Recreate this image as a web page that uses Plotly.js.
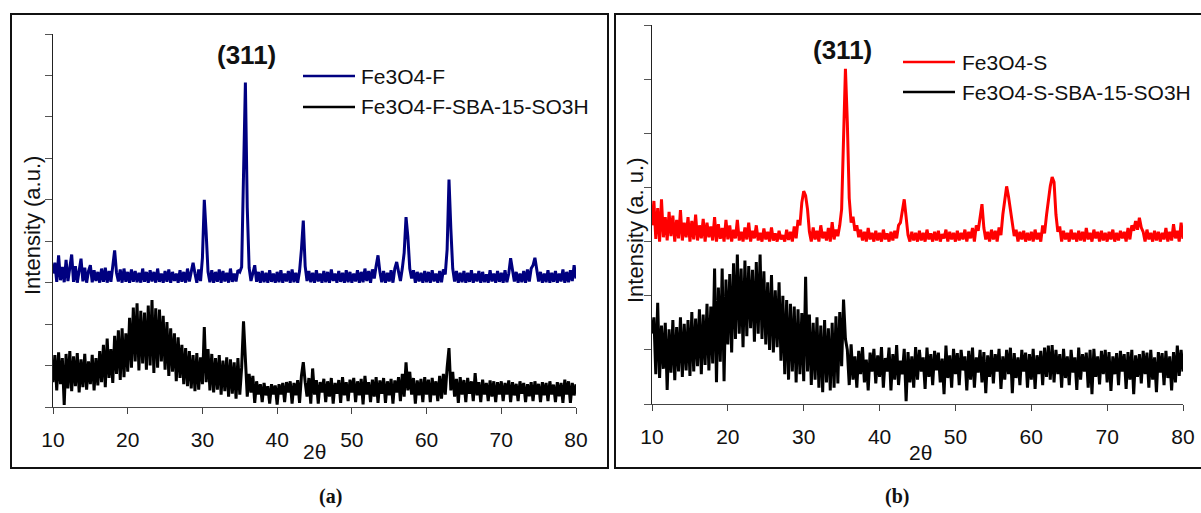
<!DOCTYPE html>
<html>
<head>
<meta charset="utf-8">
<script src="https://cdn.plot.ly/plotly-3.0.1.min.js"></script>
<style>html,body{margin:0;padding:0;background:#fff;}#chart{width:1201px;height:513px;}</style>
</head>
<body>
<div id="chart"></div>
<script>
// 2θ sampling: start and step (degrees)
const twoThetaStart = 10;
const twoThetaStep = 0.25;
const xTicks = [10, 20, 30, 40, 50, 60, 70, 80];

// Panel (a): Fe3O4-F (offset) and Fe3O4-F-SBA-15-SO3H, arbitrary units
const fe3o4F = [
322,348,302,366,306,338,301,355,304,332,368,302,340,300,330,358,303,336,300,328,
342,301,330,304,326,300,334,302,336,300,328,302,340,378,324,303,332,300,334,302,
326,300,332,302,328,301,324,300,334,302,326,300,330,303,326,300,334,302,322,300,
328,302,332,300,326,304,322,300,330,302,326,300,334,303,326,348,322,300,332,304,
360,500,420,326,301,330,300,326,302,332,300,328,303,324,300,334,302,322,303,330,
326,338,560,783,480,336,304,326,342,302,326,300,328,301,324,300,330,302,322,300,
326,301,330,300,322,303,328,300,332,301,324,300,328,380,450,340,304,328,301,324,
300,330,303,322,300,328,301,326,300,332,304,322,300,328,302,324,300,330,301,326,
300,322,303,330,300,326,301,334,304,328,300,332,310,340,366,326,301,328,300,324,
303,330,300,334,350,326,304,334,372,458,410,334,310,330,300,326,303,324,300,328,
301,326,300,330,303,322,300,328,301,332,320,380,549,430,334,303,328,300,324,301,
328,300,324,302,330,300,322,303,328,300,326,301,320,300,330,303,322,300,328,302,
324,300,330,301,322,359,334,303,326,300,322,301,328,300,332,303,334,342,360,326,
303,326,300,322,301,330,300,324,302,328,300,322,303,332,300,326,301,330,304,342,
310];
const fe3o4FSBA = [
60,125,40,132,55,118,5,128,45,135,38,122,50,130,35,115,48,128,42,110,
55,126,40,118,52,135,60,150,48,165,70,140,58,172,80,185,65,190,72,178,
85,215,95,240,110,250,88,232,105,228,90,245,100,258,82,238,95,235,110,220,
90,205,75,190,85,178,62,168,70,150,55,142,50,135,45,125,38,130,42,120,
55,193,60,140,40,128,35,118,42,125,30,112,38,120,25,115,32,108,20,118,
30,95,207,120,25,80,35,75,10,62,30,55,12,58,28,50,8,55,30,52,
6,55,30,58,12,60,35,62,8,58,28,65,10,75,108,60,25,70,8,93,
30,65,8,60,35,68,12,62,25,70,8,58,32,65,10,72,28,60,14,66,
35,70,12,62,28,68,6,75,30,60,12,66,25,72,10,64,32,70,10,62,
28,68,8,64,35,72,14,80,25,108,40,85,30,70,8,64,28,68,12,72,
30,66,12,70,28,62,14,75,20,80,30,95,142,40,85,25,68,10,72,30,
65,12,70,32,62,14,82,28,60,12,66,30,58,14,64,25,62,12,60,30,
62,14,58,30,64,12,60,28,56,14,62,32,58,12,55,26,60,14,62,30,
56,12,60,28,58,14,62,30,54,12,60,26,58,10,66,30,62,10,58,28,
55];

// Panel (b): Fe3O4-S (offset) and Fe3O4-S-SBA-15-SO3H, arbitrary units
const fe3o4S = [
330,375,305,362,300,378,308,345,302,355,310,348,300,340,306,358,302,335,308,345,
300,338,304,350,302,330,306,342,300,335,308,328,302,345,300,332,305,325,300,340,
304,330,300,322,306,340,302,318,300,326,304,335,300,320,306,330,302,316,300,324,
304,318,300,326,302,315,300,320,304,312,300,322,303,318,300,328,306,340,330,372,
393,385,360,318,300,326,304,320,300,330,306,318,302,325,300,336,304,322,310,330,
360,483,619,520,380,335,346,320,330,308,322,302,318,300,325,304,316,300,320,302,
316,300,322,304,315,300,318,302,320,306,330,335,360,378,345,312,300,318,302,316,
300,320,302,316,300,322,304,315,300,318,302,320,300,314,306,322,300,318,304,316,
300,320,302,316,304,322,300,318,306,325,300,330,320,345,369,325,304,318,300,322,
304,320,300,326,312,350,378,402,383,360,340,310,322,300,318,304,320,300,316,302,
318,300,322,304,316,300,330,315,348,380,402,419,410,350,318,328,300,320,304,316,
300,322,304,316,300,320,302,318,300,325,304,316,300,322,306,318,300,320,302,316,
300,318,304,322,300,316,302,320,306,318,300,325,304,330,320,338,322,344,326,318,
300,322,304,316,300,320,302,318,300,316,304,325,300,318,302,332,306,320,300,335,
305];
const fe3o4SSBA = [
130,160,55,187,48,145,65,150,26,138,58,155,44,142,60,160,50,148,62,155,
52,170,60,158,70,175,55,165,72,185,62,180,75,250,40,215,78,250,42,230,
110,240,95,260,120,276,130,250,105,265,125,255,140,248,115,262,130,276,120,245,
110,225,100,238,95,210,105,225,80,200,55,192,45,185,60,180,40,175,55,168,
42,235,60,165,35,150,45,160,30,145,22,155,40,140,25,150,30,162,38,170,
70,193,120,100,35,110,45,88,30,98,55,105,40,82,25,95,60,102,38,90,
50,105,30,85,60,104,25,92,45,109,35,80,55,102,5,96,40,88,30,105,
45,100,60,86,28,104,50,92,35,98,62,95,40,84,18,108,48,90,30,102,
55,94,35,100,62,88,25,98,45,104,30,86,58,100,40,96,20,90,50,100,
38,92,60,102,28,88,45,100,55,104,20,94,48,86,35,100,60,95,30,92,
45,102,28,90,55,98,35,104,50,108,45,109,40,100,55,92,30,102,48,88,
35,100,58,86,26,104,45,92,60,95,30,100,18,102,50,88,36,98,55,100,
40,96,24,88,55,94,35,98,60,92,28,96,45,100,18,90,50,92,38,98,
55,95,30,100,45,86,22,96,58,94,35,98,48,88,25,96,40,108,52,100,
60];

const seriesNames = ['Fe3O4-F', 'Fe3O4-F-SBA-15-SO3H', 'Fe3O4-S', 'Fe3O4-S-SBA-15-SO3H'];
const seriesColors = ['#000080', '#000000', '#ff0000', '#000000'];

const W = 1201, H = 513;
const px = v => v / W;
const py = v => 1 - v / H;
const FONT = 'Liberation Sans, Arial, sans-serif';

function tr(y, name, color, xa, ya) {
  return {
    type: 'scatter', mode: 'lines', y: y, x0: twoThetaStart, dx: twoThetaStep,
    name: name, xaxis: xa, yaxis: ya, showlegend: false,
    line: {color: color, width: 3}
  };
}

const data = [
  tr(fe3o4FSBA, seriesNames[1], seriesColors[1], 'x', 'y'),
  tr(fe3o4F, seriesNames[0], seriesColors[0], 'x', 'y'),
  tr(fe3o4SSBA, seriesNames[3], seriesColors[3], 'x2', 'y2'),
  tr(fe3o4S, seriesNames[2], seriesColors[2], 'x2', 'y2')
];

const xAxisBase = {
  range: [10, 80], tickvals: xTicks, ticks: 'outside', ticklen: 6, tickcolor: '#444', tickwidth: 1,
  showline: true, linecolor: '#444', linewidth: 1.2, showgrid: false, zeroline: false,
  tickfont: {family: FONT, size: 21, color: '#111'}, ticklabelstandoff: 8, fixedrange: true
};
const yAxisBase = {
  ticks: 'outside', ticklen: 7, tickcolor: '#555', tickwidth: 1, showticklabels: false,
  showline: true, linecolor: '#222', linewidth: 1.2, showgrid: false, zeroline: false, fixedrange: true
};

const layout = {
  width: W, height: H,
  margin: {l: 0, r: 0, t: 0, b: 0},
  paper_bgcolor: '#fff', plot_bgcolor: 'rgba(0,0,0,0)',
  showlegend: false,
  xaxis: Object.assign({}, xAxisBase, {domain: [px(53), px(576)], anchor: 'y'}),
  yaxis: Object.assign({}, yAxisBase, {domain: [py(407), py(34)], range: [0, 900], tickvals: [0,100,200,300,400,500,600,700,800,900], anchor: 'x'}),
  xaxis2: Object.assign({}, xAxisBase, {domain: [px(652), px(1183)], anchor: 'y2'}),
  yaxis2: Object.assign({}, yAxisBase, {domain: [py(404), py(25)], range: [0, 700], tickvals: [0,100,200,300,400,500,600,700], anchor: 'x2'}),
  shapes: [
    {type: 'rect', xref: 'paper', yref: 'paper', x0: px(11), x1: px(608), y0: py(468), y1: py(14), line: {color: '#111', width: 2}},
    {type: 'rect', xref: 'paper', yref: 'paper', x0: px(615), x1: px(1210), y0: py(468), y1: py(14), line: {color: '#111', width: 2}},
    {type: 'line', xref: 'paper', yref: 'paper', x0: px(303), x1: px(355), y0: py(76), y1: py(76), line: {color: seriesColors[0], width: 2.6}},
    {type: 'line', xref: 'paper', yref: 'paper', x0: px(303), x1: px(355), y0: py(107), y1: py(107), line: {color: seriesColors[1], width: 2.6}},
    {type: 'line', xref: 'paper', yref: 'paper', x0: px(903), x1: px(955), y0: py(62), y1: py(62), line: {color: seriesColors[2], width: 2.6}},
    {type: 'line', xref: 'paper', yref: 'paper', x0: px(903), x1: px(955), y0: py(92), y1: py(92), line: {color: seriesColors[3], width: 2.6}}
  ],
  annotations: [
    {text: seriesNames[0], xref: 'paper', yref: 'paper', x: px(359), y: py(76), xanchor: 'left', yanchor: 'middle', showarrow: false, font: {family: FONT, size: 21, color: '#111'}},
    {text: seriesNames[1], xref: 'paper', yref: 'paper', x: px(359), y: py(107), xanchor: 'left', yanchor: 'middle', showarrow: false, font: {family: FONT, size: 21, color: '#111'}},
    {text: seriesNames[2], xref: 'paper', yref: 'paper', x: px(960), y: py(62), xanchor: 'left', yanchor: 'middle', showarrow: false, font: {family: FONT, size: 21, color: '#111'}},
    {text: seriesNames[3], xref: 'paper', yref: 'paper', x: px(960), y: py(92), xanchor: 'left', yanchor: 'middle', showarrow: false, font: {family: FONT, size: 21, color: '#111'}},
    {text: '<b>(311)</b>', xref: 'paper', yref: 'paper', x: px(246), y: py(55), xanchor: 'center', yanchor: 'middle', showarrow: false, font: {family: FONT, size: 26, color: '#111'}},
    {text: '<b>(311)</b>', xref: 'paper', yref: 'paper', x: px(842), y: py(50), xanchor: 'center', yanchor: 'middle', showarrow: false, font: {family: FONT, size: 26, color: '#111'}},
    {text: 'Intensity (a.u.)', xref: 'paper', yref: 'paper', x: px(32), y: py(226), xanchor: 'center', yanchor: 'middle', textangle: -90, showarrow: false, font: {family: FONT, size: 22, color: '#111'}},
    {text: 'Intensity (a. u.)', xref: 'paper', yref: 'paper', x: px(635), y: py(230), xanchor: 'center', yanchor: 'middle', textangle: -90, showarrow: false, font: {family: FONT, size: 22, color: '#111'}},
    {text: '2θ', xref: 'paper', yref: 'paper', x: px(314), y: py(451), xanchor: 'center', yanchor: 'middle', showarrow: false, font: {family: FONT, size: 21, color: '#111'}},
    {text: '2θ', xref: 'paper', yref: 'paper', x: px(920), y: py(452), xanchor: 'center', yanchor: 'middle', showarrow: false, font: {family: FONT, size: 21, color: '#111'}},
    {text: '<b>(a)</b>', xref: 'paper', yref: 'paper', x: px(330), y: py(496), xanchor: 'center', yanchor: 'middle', showarrow: false, font: {family: 'Liberation Serif, Times New Roman, serif', size: 20, color: '#111'}},
    {text: '<b>(b)</b>', xref: 'paper', yref: 'paper', x: px(897), y: py(496), xanchor: 'center', yanchor: 'middle', showarrow: false, font: {family: 'Liberation Serif, Times New Roman, serif', size: 20, color: '#111'}}
  ]
};

Plotly.newPlot('chart', data, layout, {displayModeBar: false, staticPlot: true});
</script>
</body>
</html>
